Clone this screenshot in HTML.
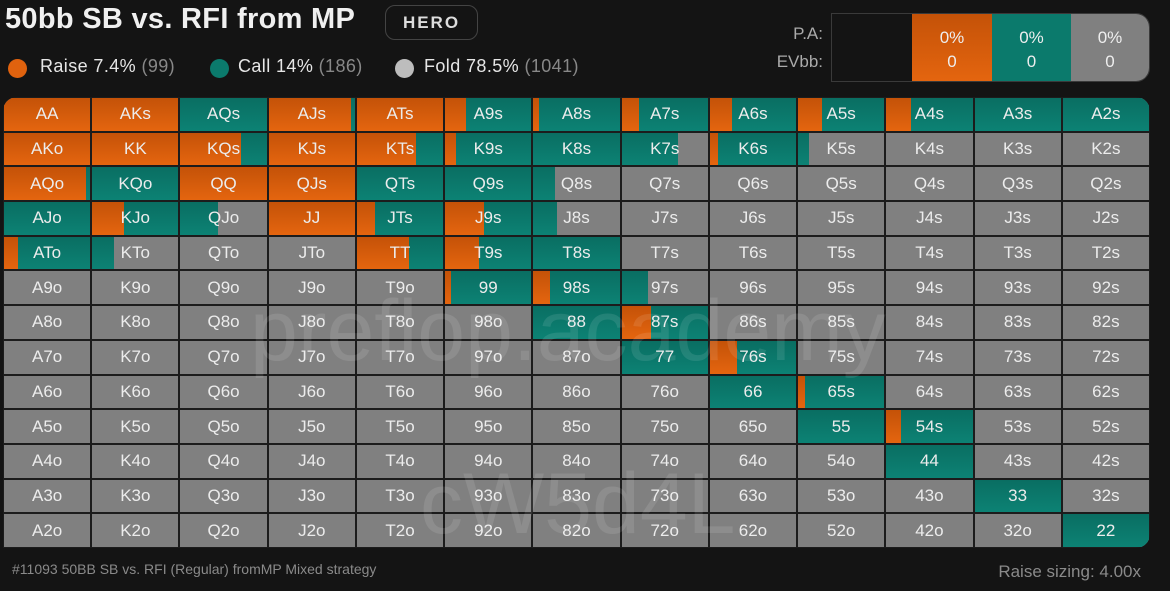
<!DOCTYPE html>
<html><head><meta charset="utf-8"><style>
body{margin:0;width:1170px;height:591px;background:#141414;overflow:hidden;font-family:"Liberation Sans",sans-serif;position:relative}
.abs{position:absolute}
#grid{position:absolute;left:3px;top:97px;width:1147px;height:451px;background:#1c1c1c;border-radius:14px 14px 14px 0;overflow:hidden}
.cell{position:absolute;overflow:hidden;background:#808080}
.cell .r{position:absolute;top:0;bottom:0;left:0;background:linear-gradient(#c45208,#e4650f)}
.cell .c{position:absolute;top:0;bottom:0;background:linear-gradient(#0a6e62,#0c8274)}
.cell span{position:absolute;left:0;right:0;top:0;bottom:0;display:flex;align-items:center;justify-content:center;color:#ececec;font-size:17px}
.wm{position:absolute;color:rgba(255,255,255,0.10);font-size:86px;pointer-events:none;white-space:nowrap}
.lg{position:absolute;top:56px;font-size:18px;color:#e6e6e6;white-space:nowrap;letter-spacing:0.4px}
.dot{position:absolute;top:59px;width:19px;height:19px;border-radius:50%}
</style></head><body>
<div class="abs" style="left:5px;top:3px;font-size:29px;font-weight:bold;color:#f0f0f0;letter-spacing:0.3px">50bb SB vs. RFI from MP</div>
<div class="abs" style="left:385px;top:5px;width:93px;height:35px;border:1.5px solid #444;border-radius:10px;color:#ddd;font-size:17px;font-weight:bold;letter-spacing:2px;display:flex;align-items:center;justify-content:center;box-sizing:border-box">HERO</div>
<div class="dot" style="left:8px;background:#e0620e"></div>
<div class="lg" style="left:40px">Raise 7.4% <span style="color:#888">(99)</span></div>
<div class="dot" style="left:210px;background:#0b7a6c"></div>
<div class="lg" style="left:238px">Call 14% <span style="color:#888">(186)</span></div>
<div class="dot" style="left:395px;background:#bdbdbd"></div>
<div class="lg" style="left:424px">Fold 78.5% <span style="color:#888">(1041)</span></div>
<div class="abs" style="left:760px;top:24px;width:63px;text-align:right;color:#aaa;font-size:17px">P.A:</div>
<div class="abs" style="left:750px;top:52px;width:73px;text-align:right;color:#aaa;font-size:17px">EVbb:</div>
<div class="abs" style="left:831px;top:13px;width:319px;height:69px;border:1px solid #3a3a3a;border-radius:0 14px 14px 0;overflow:hidden;display:flex;box-sizing:border-box">
<div style="width:80px;background:#141414"></div>
<div style="width:80px;background:linear-gradient(#c45208,#e4650f);color:#eee;font-size:17px;text-align:center;padding-top:12px;line-height:24px">0%<br>0</div>
<div style="width:79px;background:#0b7a6c;color:#eee;font-size:17px;text-align:center;padding-top:12px;line-height:24px">0%<br>0</div>
<div style="flex:1;background:#808080;color:#eee;font-size:17px;text-align:center;padding-top:12px;line-height:24px">0%<br>0</div>
</div>
<div id="grid"></div>
<div class="wm" style="left:250px;top:282px">preflop.academy</div>
<div class="wm" style="left:420px;top:455px">cW5d4L</div>
<div class="abs" style="left:12px;top:561px;font-size:14px;color:#8a8a8a">#11093 50BB SB vs. RFI (Regular) fromMP Mixed strategy</div>
<div class="abs" style="right:29px;top:562px;font-size:17px;color:#8a8a8a">Raise sizing: 4.00x</div>
<script>
const ranks=['A','K','Q','J','T','9','8','7','6','5','4','3','2'];
const raise=[
[1,1,0,0.95,1,0.24,0.07,0.2,0.26,0.28,0.29,0,0],
[1,1,0.7,1,0.68,0.13,0,0,0.1,0,0,0,0],
[0.95,0,1,1,0,0,0,0,0,0,0,0,0],
[0,0.37,0,1,0.21,0.45,0,0,0,0,0,0,0],
[0.16,0,0,0,0.6,0.39,0,0,0,0,0,0,0],
[0,0,0,0,0,0.07,0.19,0,0,0,0,0,0],
[0,0,0,0,0,0,0,0.34,0,0,0,0,0],
[0,0,0,0,0,0,0,0,0.31,0,0,0,0],
[0,0,0,0,0,0,0,0,0,0.08,0,0,0],
[0,0,0,0,0,0,0,0,0,0,0.17,0,0],
[0,0,0,0,0,0,0,0,0,0,0,0,0],
[0,0,0,0,0,0,0,0,0,0,0,0,0],
[0,0,0,0,0,0,0,0,0,0,0,0,0]];
const call=[
[0,0,1,0.05,0,0.76,0.93,0.8,0.74,0.72,0.71,1,1],
[0,0,0.3,0,0.32,0.87,1,0.65,0.9,0.13,0,0,0],
[0.05,1,0,0,1,1,0.25,0,0,0,0,0,0],
[1,0.63,0.43,0,0.79,0.55,0.27,0,0,0,0,0,0],
[0.84,0.25,0,0,0.4,0.61,1,0,0,0,0,0,0],
[0,0,0,0,0,0.93,0.81,0.31,0,0,0,0,0],
[0,0,0,0,0,0,1,0.66,0,0,0,0,0],
[0,0,0,0,0,0,0,1,0.69,0,0,0,0],
[0,0,0,0,0,0,0,0,1,0.92,0,0,0],
[0,0,0,0,0,0,0,0,0,1,0.83,0,0],
[0,0,0,0,0,0,0,0,0,0,1,0,0],
[0,0,0,0,0,0,0,0,0,0,0,1,0],
[0,0,0,0,0,0,0,0,0,0,0,0,1]];
const grid=document.getElementById('grid');
const cw=1147/13, ch=451/13;
for(let i=0;i<13;i++)for(let j=0;j<13;j++){
  const label=i===j?ranks[i]+ranks[j]:(j>i?ranks[i]+ranks[j]+'s':ranks[j]+ranks[i]+'o');
  const d=document.createElement('div');
  d.className='cell';
  
  
  d.style.left=(j*cw+1)+'px';d.style.top=(i*ch+1)+'px';
  d.style.width=(cw-2)+'px';d.style.height=(ch-2)+'px';
  const w=cw-2, r=raise[i][j], c=call[i][j];
  if(r>0){const e=document.createElement('div');e.className='r';e.style.width=(r*w)+'px';d.appendChild(e);}
  if(c>0){const e=document.createElement('div');e.className='c';e.style.left=(r*w)+'px';e.style.width=(c*w)+'px';d.appendChild(e);}
  const s=document.createElement('span');s.textContent=label;d.appendChild(s);
  grid.appendChild(d);
}
</script>
</body></html>
